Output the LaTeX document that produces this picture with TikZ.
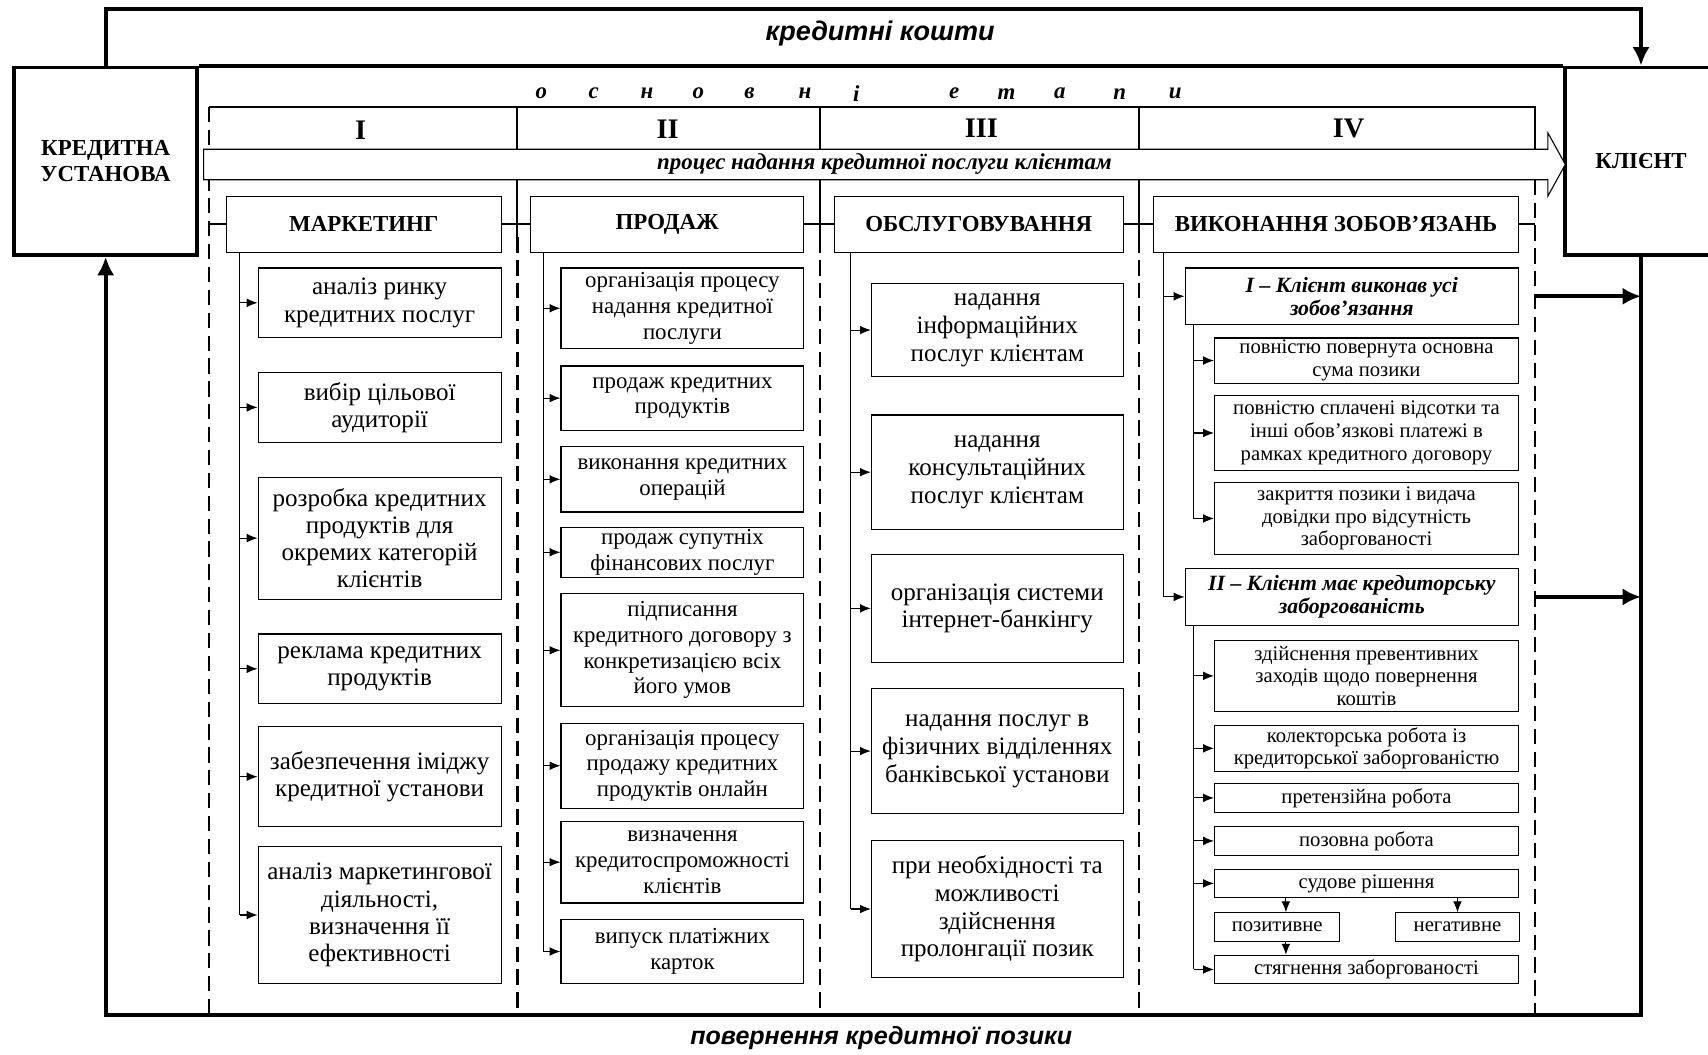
\documentclass[tikz,border=0pt]{standalone}
\usepackage{fontspec}
\setmainfont{Liberation Serif}
\newfontfamily\labelsans{Liberation Sans}
\usetikzlibrary{arrows.meta}

% box placed by its left, top, right and bottom edges
\newcommand{\placebox}[7]{%
  \node[#1, minimum width={(#5-#3)*0.5pt}, minimum height={(#6-#4)*0.5pt}]
    (#2) at ({(#3+#5)/2},{(#4+#6)/2}) {#7};}

\begin{document}
\begin{tikzpicture}[x=0.5pt, y=-0.5pt,
  heavy/.style={line width=1.8pt},
  flow/.style={line width=1.8pt, -{Latex[length=8.5pt,width=8pt]}},
  link/.style={line width=0.5pt, -{Latex[length=5pt,width=4pt]}},
  spine/.style={line width=0.5pt},
  rule/.style={line width=0.9pt},
  stagedash/.style={line width=1pt, dash pattern=on 7pt off 3.5pt},
  frame/.style={draw, line width=0.5pt, inner sep=1pt, align=center},
  party/.style={draw, line width=1.8pt, align=center, font=\bfseries\fontsize{10.5}{12}\selectfont},
  phase/.style={frame, fill=white, font=\bfseries\fontsize{10.5}{12}\selectfont},
  itemA/.style={frame, font=\fontsize{11.5}{12.5}\selectfont},
  itemB/.style={frame, font=\fontsize{10.5}{11.8}\selectfont},
  itemC/.style={frame, font=\fontsize{11.5}{12.75}\selectfont},
  group/.style={frame, font=\bfseries\itshape\fontsize{10}{10.5}\selectfont},
  itemD/.style={frame, font=\fontsize{9.5}{10.4}\selectfont},
  numeral/.style={font=\bfseries\fontsize{13}{14}\selectfont, inner sep=0pt},
  spaced/.style={font=\bfseries\itshape\fontsize{10.5}{12}\selectfont, inner sep=0pt},
  caption/.style={font=\labelsans\bfseries\itshape\fontsize{#1}{14}\selectfont, inner sep=0pt},
]
\useasboundingbox (0,0) rectangle (1568,968);

% ---------- the two parties and the money flows ----------
\placebox{party}{bank}{13}{62}{181}{234}{КРЕДИТНА\\УСТАНОВА}
\placebox{party}{client}{1437}{62}{1576}{234}{КЛІЄНТ}

\draw[heavy] (bank.north east) -- (client.north west);
\draw[flow] (bank.north) -- ++(0,-52) -| (client.north);
\draw[flow] (client.south) -- ++(0,696) -| (bank.south);

\node[caption=12.4] (credit) at (808,31) {кредитні кошти};
\node[caption=11.5] (repay) at (809,953) {повернення кредитної позики};

% ---------- stage header ----------
\foreach \ch/\px [count=\k] in {о/497,с/545,н/594,о/641,в/688,н/739,і/786,е/876,т/924,а/973,п/1028,и/1079}
  \node[spaced] (stage\k) at (\px,86) {\ch};

\coordinate (L0) at (192,0);
\coordinate (L1) at (475,0);
\coordinate (L2) at (753,0);
\coordinate (L3) at (1046,0);
\coordinate (L4) at (1409,0);

\draw[rule] (192,98) -- (1409,98) -- (1409,137);
\foreach \xx in {475,753,1046} {
  \draw[rule] (\xx,98) -- (\xx,137);
  \draw[rule] (\xx,165) -- (\xx,218);
  \draw[stagedash] (\xx,218) -- (\xx,930);
}
\draw[stagedash] (192,98) -- (192,930);
\draw[stagedash] (1409,165) -- (1409,930);

\node[numeral] (n1) at (331,120) {I};
\node[numeral] (n2) at (613,119) {II};
\node[numeral] (n3) at (901,118) {III};
\node[numeral] (n4) at (1238,118) {IV};

% process band
\draw[line width=0.5pt, fill=white] (187,137) -- (1421,137) -- (1421,122) -- (1437,151)
  -- (1421,180) -- (1421,165) -- (187,165) -- cycle;
\node[spaced] (process) at (812,151) {процес надання кредитної послуги клієнтам};

% ---------- column headers ----------
\placebox{phase}{mkt}{208}{180}{460}{232}{МАРКЕТИНГ}
\placebox{phase}{sale}{487}{180}{738}{232}{ПРОДАЖ}
\placebox{phase}{serv}{766}{180}{1031}{232}{ОБСЛУГОВУВАННЯ}
\placebox{phase}{exec}{1059}{180}{1394}{232}{ВИКОНАННЯ ЗОБОВ’ЯЗАНЬ}

\draw[rule] (L0 |- mkt.west) -- (mkt.west);
\draw[rule] (mkt.east) -- (L1 |- mkt.east);
\draw[rule] (L1 |- sale.west) -- (sale.west);
\draw[rule] (sale.east) -- (L2 |- sale.east);
\draw[rule] (L2 |- serv.west) -- (serv.west);
\draw[rule] (serv.east) -- (L3 |- serv.east);
\draw[rule] (L3 |- exec.west) -- (exec.west);
\draw[rule] (exec.east) -- (L4 |- exec.east);

% ---------- I: marketing ----------
\placebox{itemA}{a1}{237}{246}{460}{310}{аналіз ринку\\кредитних послуг}
\placebox{itemA}{a2}{237}{342}{460}{406}{вибір цільової\\аудиторії}
\placebox{itemA}{a3}{237}{438}{460}{550}{розробка кредитних\\продуктів для\\окремих категорій\\клієнтів}
\placebox{itemA}{a4}{237}{582}{460}{646}{реклама кредитних\\продуктів}
\placebox{itemA}{a5}{237}{667}{460}{759}{забезпечення іміджу\\кредитної установи}
\placebox{itemA}{a6}{237}{777}{460}{903}{аналіз маркетингової\\діяльності,\\визначення її\\ефективності}

\coordinate (sA) at (220,232);
\draw[spine] (sA) -- (sA |- a6.west);
\foreach \b in {a1,a2,a3,a4,a5,a6}
  \draw[link] (sA |- \b.west) -- (\b.west);

% ---------- II: sales ----------
\placebox{itemB}{b1}{515}{246}{738}{320}{організація процесу\\надання кредитної\\послуги}
\placebox{itemB}{b2}{515}{336}{738}{395}{продаж кредитних\\продуктів}
\placebox{itemB}{b3}{515}{410}{738}{470}{виконання кредитних\\операцій}
\placebox{itemB}{b4}{515}{485}{738}{529}{продаж супутніх\\фінансових послуг}
\placebox{itemB}{b5}{515}{545}{738}{649}{підписання\\кредитного договору з\\конкретизацією всіх\\його умов}
\placebox{itemB}{b6}{515}{664}{738}{742}{організація процесу\\продажу кредитних\\продуктів онлайн}
\placebox{itemB}{b7}{515}{754}{738}{829}{визначення\\кредитоспроможності\\клієнтів}
\placebox{itemB}{b8}{515}{844}{738}{903}{випуск платіжних\\карток}

\coordinate (sB) at (499,232);
\draw[spine] (sB) -- (sB |- b8.west);
\foreach \b in {b1,b2,b3,b4,b5,b6,b7,b8}
  \draw[link] (sB |- \b.west) -- (\b.west);

% ---------- III: servicing ----------
\placebox{itemC}{c1}{800}{260}{1031}{346}{надання\\інформаційних\\послуг клієнтам}
\placebox{itemC}{c2}{800}{381}{1031}{486}{надання\\консультаційних\\послуг клієнтам}
\placebox{itemC}{c3}{800}{509}{1031}{608}{організація системи\\інтернет-банкінгу}
\placebox{itemC}{c4}{800}{632}{1031}{747}{надання послуг в\\фізичних відділеннях\\банківської установи}
\placebox{itemC}{c5}{800}{772}{1031}{897}{при необхідності та\\можливості\\здійснення\\пролонгації позик}

\coordinate (sC) at (781,232);
\draw[spine] (sC) -- (sC |- c5.west);
\foreach \b in {c1,c2,c3,c4,c5}
  \draw[link] (sC |- \b.west) -- (\b.west);

% ---------- IV: fulfilment of obligations ----------
\placebox{group}{g1}{1088}{246}{1394}{298}{I – Клієнт виконав усі\\зобов’язання}
\placebox{itemD}{x1}{1115}{311}{1394}{351}{повністю повернута основна\\сума позики}
\placebox{itemD}{x2}{1115}{363}{1394}{432}{повністю сплачені відсотки та\\інші обов’язкові платежі в\\рамках кредитного договору}
\placebox{itemD}{x3}{1115}{443}{1394}{509}{закриття позики і видача\\довідки про відсутність\\заборгованості}

\placebox{group}{g2}{1088}{522}{1394}{574}{II – Клієнт має кредиторську\\заборгованість}
\placebox{itemD}{y1}{1115}{588}{1394}{653}{здійснення превентивних\\заходів щодо повернення\\коштів}
\placebox{itemD}{y2}{1115}{667}{1394}{707}{колекторська робота із\\кредиторської заборгованістю}
\placebox{itemD}{y3}{1115}{719}{1394}{746}{претензійна робота}
\placebox{itemD}{y4}{1115}{759}{1394}{785}{позовна робота}
\placebox{itemD}{y5}{1115}{798}{1394}{824}{судове рішення}
\placebox{itemD}{y6}{1115}{838}{1230}{864}{позитивне}
\placebox{itemD}{y7}{1281}{838}{1395}{864}{негативне}
\placebox{itemD}{y8}{1115}{877}{1394}{903}{стягнення заборгованості}

\coordinate (sD) at (1068,232);
\draw[spine] (sD) -- (sD |- g2.west);
\draw[link] (sD |- g1.west) -- (g1.west);
\draw[link] (sD |- g2.west) -- (g2.west);

\coordinate (sG1) at (1096,298);
\draw[spine] (sG1) -- (sG1 |- x3.west);
\foreach \b in {x1,x2,x3}
  \draw[link] (sG1 |- \b.west) -- (\b.west);

\coordinate (sG2) at (1096,574);
\draw[spine] (sG2) -- (sG2 |- y8.west);
\foreach \b in {y1,y2,y3,y4,y5,y8}
  \draw[link] (sG2 |- \b.west) -- (\b.west);

\draw[link] ([xshift=4pt]y5.south -| y6.north) -- ([xshift=4pt]y6.north);
\draw[link] (y5.south -| y7.north) -- (y7.north);
\draw[link] ([xshift=4pt]y6.south) -- ([xshift=4pt]y6.south |- y8.north);

% outcomes returned to the client
\draw[flow] (L4 |- g1.east) -- (client.south |- g1.east);
\draw[flow] (L4 |- g2.east) -- (client.south |- g2.east);

\end{tikzpicture}
\end{document}
